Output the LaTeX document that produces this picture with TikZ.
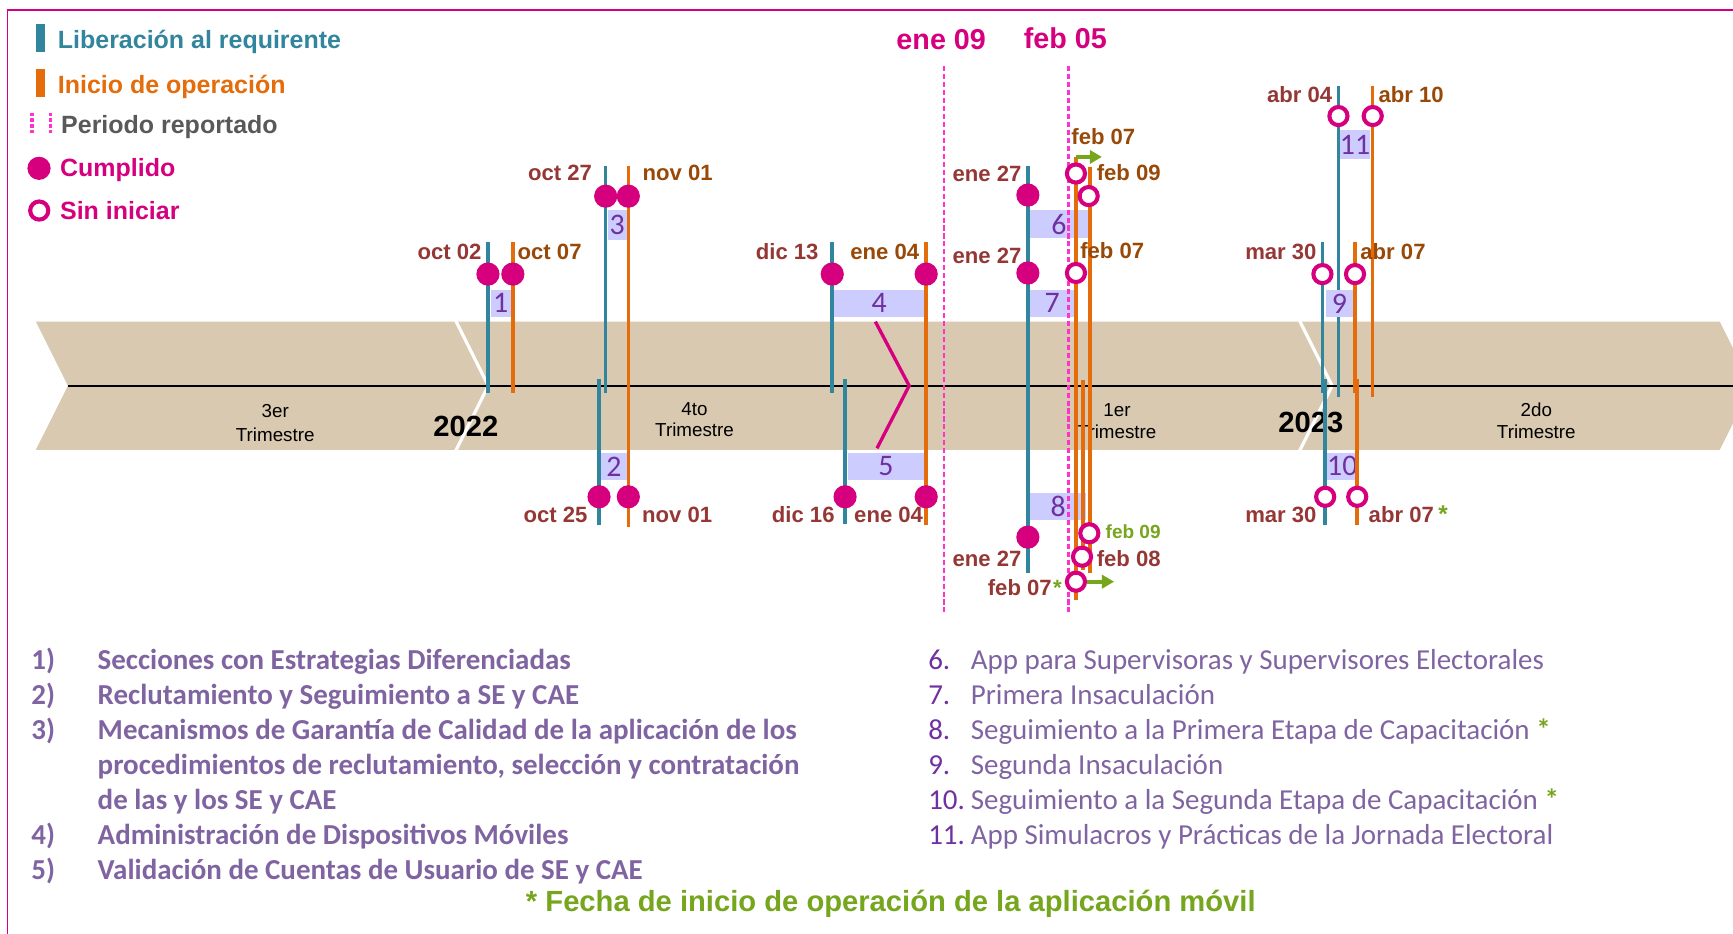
\documentclass[tikz,border=0pt]{standalone}
\usepackage{fontspec}
\setmainfont{Liberation Sans}
\newfontfamily\carlito{Carlito}
\usetikzlibrary{arrows.meta}

\definecolor{colLib}{RGB}{49,133,156}
\definecolor{colIni}{RGB}{228,108,10}
\definecolor{mag}{RGB}{214,0,127}
\definecolor{rosa}{RGB}{255,51,204}
\definecolor{lila}{RGB}{204,204,255}
\definecolor{morado}{RGB}{112,48,160}
\definecolor{violeta}{RGB}{128,100,162}
\definecolor{arena}{RGB}{216,201,176}
\definecolor{rojo}{RGB}{149,55,53}
\definecolor{cafe}{RGB}{152,72,7}
\definecolor{verde}{RGB}{118,165,30}
\definecolor{gris}{RGB}{89,89,89}
\newcommand{\tam}[1]{\fontsize{#1}{#1}\selectfont}

\begin{document}
\begin{tikzpicture}[x=0.5pt,y=-0.5pt]
\tikzstyle{every node}=[inner sep=0pt,font=\bfseries\tam{10}]
\tikzstyle{liber}=[draw=colLib,line width=1.6pt]
\tikzstyle{inic}=[draw=colIni,line width=1.6pt]
\tikzstyle{hecho}=[circle,fill=mag,minimum size=10.5pt]
\tikzstyle{pend}=[circle,draw=mag,fill=white,line width=1.85pt,minimum size=8.2pt]
\tikzstyle{caja}=[fill=lila,text=morado,font=\carlito\tam{13.5}]
\tikzstyle{fr}=[text=rojo]
\tikzstyle{fc}=[text=cafe]
\tikzstyle{corte}=[draw=rosa,line width=1.2pt,dash pattern=on 2.3pt off 1.3pt]
\tikzstyle{trim}=[anchor=base,font=\tam{8.5}]
\tikzstyle{leyenda}=[anchor=base west,font=\bfseries\tam{11.3}]
\tikzstyle{lista}=[anchor=base west,text=violeta,font=\carlito\tam{13.1}]
\tikzstyle{listab}=[lista,font=\carlito\bfseries\tam{13.1}]
\tikzstyle{flecha}=[draw=verde,line width=1.8pt,-{Triangle[length=5.5pt,width=6pt]}]

\useasboundingbox (0,0) rectangle (1568,845);
\clip (0,0) rectangle (1568,845);
\draw[mag,line width=0.7pt] (6.8,845) -- (6.8,9) -- (1568,9);

% leyenda
\fill[colLib] (32.4,22) rectangle (40.3,46.8);
\fill[colIni] (32.4,62.4) rectangle (40.3,87.5);
\draw[rosa,line width=1.6pt,dash pattern=on 1.5pt off 1.1pt] (29,102) -- (29,122);
\draw[rosa,line width=1.6pt,dash pattern=on 1.5pt off 1.1pt] (45.7,102) -- (45.7,122);
\node[hecho] (lhecho) at (35.3,152.3) {};
\node[pend] (lpend) at (35.5,190.5) {};
\node[leyenda,text=colLib] (lLib) at (52,43.7) {Liberación al requirente};
\node[leyenda,text=colIni] (lIni) at (52,84.3) {Inicio de operación};
\node[leyenda,text=gris] (lPer) at (55,120.6) {Periodo reportado};
\node[leyenda,text=mag] (lCum) at (54,160) {Cumplido};
\node[leyenda,text=mag] (lSin) at (54,199) {Sin iniciar};

% franja de trimestres
\fill[arena] (32.4,291) -- (411,291) -- (440,349) -- (411,407) -- (32.4,407) -- (61.5,349) -- cycle;
\fill[arena] (414.5,291) -- (1174.5,291) -- (1203.5,349) -- (1174.5,407) -- (414.5,407) -- (443.5,349) -- cycle;
\fill[arena] (1178,291) -- (1556,291) -- (1585,349) -- (1556,407) -- (1178,407) -- (1207,349) -- cycle;
\draw[line width=0.9pt] (61.5,349) -- (1568,349);
\node[trim] (q3a) at (249,378) {3er};
\node[trim] (q3b) at (249,399.5) {Trimestre};
\node[trim] (q4a) at (628.4,375.5) {4to};
\node[trim] (q4b) at (628.4,395) {Trimestre};
\node[trim] (q1a) at (1010.7,377) {1er};
\node[trim] (q1b) at (1010.7,397) {Trimestre};
\node[trim] (q2a) at (1390,377) {2do};
\node[trim] (q2b) at (1390,397) {Trimestre};
\node[anchor=base,font=\bfseries\tam{13.2}] (y22) at (421.5,394.5) {2022};
\node[anchor=base,font=\bfseries\tam{13.2}] (y23) at (1186,391.5) {2023};

% cajas
\node[caja,minimum width=9pt,minimum height=12.5pt] (n1) at (453,274.5) {1};
\node[caja,minimum width=11.5pt,minimum height=12pt] (n2) at (555.5,422) {2};
\node[caja,minimum width=8.5pt,minimum height=13.5pt] (n3) at (558.5,203.5) {3};
\node[caja,minimum width=40.5pt,minimum height=12.5pt] (n4) at (795.5,274.5) {4};
\node[caja,minimum width=34.5pt,minimum height=12pt] (n5) at (801.5,422) {5};
\node[caja,minimum width=26pt,minimum height=12.75pt] (n6) at (958,202.75) {6};
\node[caja,minimum width=20pt,minimum height=12.5pt] (n7) at (952,274.5) {7};
\node[caja,minimum width=25.5pt,minimum height=12.25pt] (n8) at (957.5,458.25) {8};
\node[caja,minimum width=13.5pt,minimum height=12pt] (n10) at (1214.5,422) {10};
\node[caja,minimum width=13.75pt,minimum height=13pt] (n11) at (1226,131) {11};

% periodo reportado
\draw[corte] (854,60) -- (854,553.5);
\draw[corte] (967,60) -- (967,553.5);
\node[anchor=base,text=mag,font=\bfseries\tam{13}] (ene09) at (851.6,44.6) {ene 09};
\node[anchor=base,text=mag,font=\bfseries\tam{13}] (feb05) at (964,43.7) {feb 05};

% lineas
\draw[liber] (441.5,219) -- (441.5,356);
\draw[inic] (464,219) -- (464,356);
\draw[liber] (548,150) -- (548,356);
\draw[inic] (568.5,150) -- (568.5,477);
\draw[liber] (542,343) -- (542,475);
\draw[liber] (753,219) -- (753,356);
\draw[inic] (838,219) -- (838,475);
\draw[liber] (764.6,343) -- (764.6,474);
\draw[liber] (930,150) -- (930,518.6);
\draw[inic] (973.5,142) -- (973.5,543);
\draw[inic] (980,344) -- (980,516);
\draw[inic] (986,151) -- (986,518.6);
\draw[liber] (1196.5,219) -- (1196.5,356);
\draw[inic] (1226,219) -- (1226,356);
\draw[liber] (1199,343) -- (1199,475);
\draw[inic] (1228,343) -- (1228,475);
\draw[liber] (1211,77.5) -- (1211,359);
\draw[inic] (1242,77.5) -- (1242,359);
\node[caja,minimum width=12pt,minimum height=12.5pt] (n9) at (1212,274.5) {9};
\draw[mag,line width=1.5pt] (792,291) -- (822.6,349) -- (793.5,405.6);

% hitos
\node[hecho] (c1a) at (441.5,248) {};
\node[hecho] (c1b) at (464,248) {};
\node[hecho] (c3a) at (548,177.5) {};
\node[hecho] (c3b) at (568.5,177.5) {};
\node[hecho] (c2a) at (542,449.5) {};
\node[hecho] (c2b) at (568.5,449.5) {};
\node[hecho] (c4a) at (753,248) {};
\node[hecho] (c4b) at (838,248) {};
\node[hecho] (c5a) at (764.6,449.5) {};
\node[hecho] (c5b) at (838,449.5) {};
\node[hecho] (c6a) at (930,176.5) {};
\node[pend] (c6b) at (973.5,157) {};
\node[pend] (c6c) at (985,177.4) {};
\node[hecho] (c7a) at (930,247) {};
\node[pend] (c7b) at (973.5,247) {};
\node[hecho] (c8a) at (930,486) {};
\node[pend] (c8b) at (985.6,482.5) {};
\node[pend] (c8c) at (979,503.7) {};
\node[pend] (c8d) at (973.5,526.3) {};
\node[pend] (c9a) at (1196.5,248) {};
\node[pend] (c9b) at (1226,248) {};
\node[pend] (c10a) at (1199,449.5) {};
\node[pend] (c10b) at (1228,449.5) {};
\node[pend] (c11a) at (1211,105) {};
\node[pend] (c11b) at (1242,105) {};
\coordinate (f6) at (997,142);
\coordinate (f8) at (1008,526.3);
\draw[flecha] (973.5,142) -- (f6);
\draw[flecha] (c8d.east) -- (f8);

% fechas
\node[fr,anchor=base east] (d1a) at (436,235) {oct 02};
\node[fc,anchor=base west] (d1b) at (468,235) {oct 07};
\node[fr,anchor=base east] (d3a) at (536,163.5) {oct 27};
\node[fc,anchor=base west] (d3b) at (581,163.5) {nov 01};
\node[fr,anchor=base east] (d2a) at (532,473) {oct 25};
\node[fr,anchor=base west] (d2b) at (580.6,473) {nov 01};
\node[fr,anchor=base east] (d4a) at (741,235) {dic 13};
\node[fc,anchor=base east] (d4b) at (832,235) {ene 04};
\node[fr,anchor=base east] (d5a) at (755.5,473) {dic 16};
\node[fr,anchor=base west] (d5b) at (772.5,473) {ene 04};
\node[fr,anchor=base east] (d6a) at (924.6,164.4) {ene 27};
\node[fc,anchor=base west] (d6b) at (969,130.5) {feb 07};
\node[fc,anchor=base west] (d6c) at (992,163) {feb 09};
\node[fr,anchor=base east] (d7a) at (924.6,238) {ene 27};
\node[fc,anchor=base west] (d7b) at (977,234) {feb 07};
\node[fr,anchor=base east] (d8a) at (924.6,512.7) {ene 27};
\node[anchor=base west,text=verde,font=\bfseries\tam{8.6}] (d8b) at (1000,487) {feb 09};
\node[fr,anchor=base west] (d8c) at (992,512.7) {feb 08};
\node[fr,anchor=base east] (d8d) at (952,539) {feb 07};
\node[anchor=base west,text=verde] (a8) at (952.5,539) {*};
\node[fr,anchor=base east] (d9a) at (1191.6,235) {mar 30};
\node[fc,anchor=base west] (d9b) at (1230.5,235) {abr 07};
\node[fr,anchor=base east] (d10a) at (1191.6,473) {mar 30};
\node[fr,anchor=base west] (d10b) at (1238,473) {abr 07};
\node[anchor=base west,text=verde,font=\bfseries\tam{11}] (a10) at (1301,473) {*};
\node[fr,anchor=base east] (d11a) at (1205.7,93) {abr 04};
\node[fc,anchor=base west] (d11b) at (1247,93) {abr 10};

% listas
\node[listab] (i1) at (28,606) {1)};
\node[listab] (t1) at (88,606) {Secciones con Estrategias Diferenciadas};
\node[listab] (i2) at (28,637.7) {2)};
\node[listab] (t2) at (88,637.7) {Reclutamiento y Seguimiento a SE y CAE};
\node[listab] (i3) at (28,669.4) {3)};
\node[listab] (t3) at (88,669.4) {Mecanismos de Garantía de Calidad de la aplicación de los};
\node[listab] (t3b) at (88,701) {procedimientos de reclutamiento, selección y contratación};
\node[listab] (t3c) at (88,732.8) {de las y los SE y CAE};
\node[listab] (i4) at (28,764.5) {4)};
\node[listab] (t4) at (88,764.5) {Administración de Dispositivos Móviles};
\node[listab] (i5) at (28,796.2) {5)};
\node[listab] (t5) at (88,796.2) {Validación de Cuentas de Usuario de SE y CAE};
\node[lista,text=morado] (i6) at (839.5,606) {6.};
\node[lista] (t6) at (878,606) {App para Supervisoras y Supervisores Electorales};
\node[lista,text=morado] (i7) at (839.5,637.7) {7.};
\node[lista] (t7) at (878,637.7) {Primera Insaculación};
\node[lista,text=morado] (i8) at (839.5,669.4) {8.};
\node[lista] (t8) at (878,669.4) {Seguimiento a la Primera Etapa de Capacitación {\color{verde}\bfseries*}};
\node[lista,text=morado] (i9) at (839.5,701) {9.};
\node[lista] (t9) at (878,701) {Segunda Insaculación};
\node[lista,text=morado] (i10) at (839.5,732.8) {10.};
\node[lista] (t10) at (878,732.8) {Seguimiento a la Segunda Etapa de Capacitación {\color{verde}\bfseries*}};
\node[lista,text=morado] (i11) at (839.5,764.5) {11.};
\node[lista] (t11) at (878,764.5) {App Simulacros y Prácticas de la Jornada Electoral};
\node[anchor=base,text=verde,font=\bfseries\tam{13.2}] (nota) at (806,825) {* Fecha de inicio de operación de la aplicación móvil};
\end{tikzpicture}
\end{document}
